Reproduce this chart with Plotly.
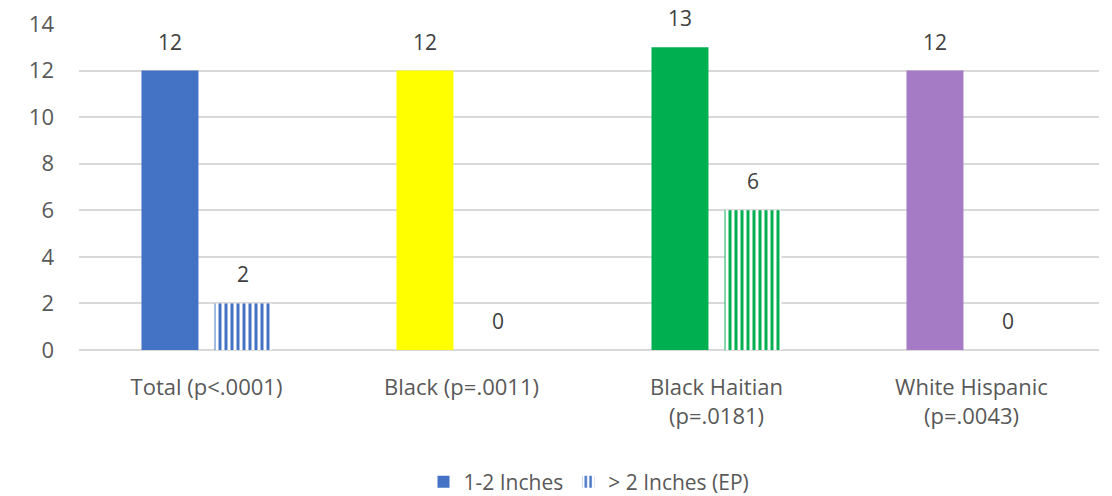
import plotly.graph_objects as go

categories = ["Total (p<.0001)", "Black (p=.0011)", "Black Haitian<br>(p=.0181)", "White Hispanic<br>(p=.0043)"]
inches_1_2 = [12, 12, 13, 12]
inches_over_2 = [2, 0, 6, 0]
group_colors = ["#4472C4", "#FFFF00", "#00B050", "#A67BC5"]
y_ticks = [0, 2, 4, 6, 8, 10, 12, 14]

FONT = "Open Sans"
TEXT_GRAY = "#595959"
LABEL_GRAY = "#404040"

fig = go.Figure()
fig.add_trace(go.Bar(
    x=categories, y=inches_1_2, name="1-2 Inches",
    marker=dict(color=group_colors, line=dict(width=0)),
))
fig.add_trace(go.Bar(
    x=categories, y=inches_over_2, name="> 2 Inches (EP)",
    marker=dict(
        color="white",
        line=dict(width=0),
        pattern=dict(shape="|", fgcolor=group_colors, bgcolor="white",
                     size=6, solidity=0.5, fgopacity=1, fillmode="replace"),
    ),
))

# value labels above each bar
for series, shift in ((inches_1_2, -36.5), (inches_over_2, 36.5)):
    for cat, val in zip(categories, series):
        fig.add_annotation(
            x=cat, y=val, xref="x", yref="y", text=str(val),
            showarrow=False, xshift=shift, yshift=29,
            yanchor="middle", xanchor="center",
            font=dict(family=FONT, size=21, color=LABEL_GRAY),
        )

fig.update_layout(
    width=1112, height=496,
    margin=dict(l=79, r=13, t=24, b=146, autoexpand=False),
    paper_bgcolor="white", plot_bgcolor="white",
    barmode="group", bargap=0.427, bargroupgap=0.22,
    font=dict(family=FONT, size=21, color=TEXT_GRAY),
    showlegend=True,
    legend=dict(orientation="h", x=0.5, xanchor="center", xref="paper",
                y=0.028, yref="container", yanchor="middle",
                font=dict(family=FONT, size=21, color=TEXT_GRAY),
                itemwidth=30, tracegroupgap=0),
    xaxis=dict(showgrid=False, showline=False, ticks="", automargin=False,
               ticklabelstandoff=22,
               tickfont=dict(family=FONT, size=22, color=TEXT_GRAY)),
    yaxis=dict(range=[0, 14], tickvals=y_ticks, showgrid=True, automargin=False,
               gridcolor="#D9D9D9", gridwidth=2, zeroline=True,
               zerolinecolor="#D9D9D9", zerolinewidth=2,
               showline=False, ticks="", ticklabelstandoff=24,
               tickfont=dict(family=FONT, size=22, color=TEXT_GRAY)),
)

fig.write_html("out.html")
